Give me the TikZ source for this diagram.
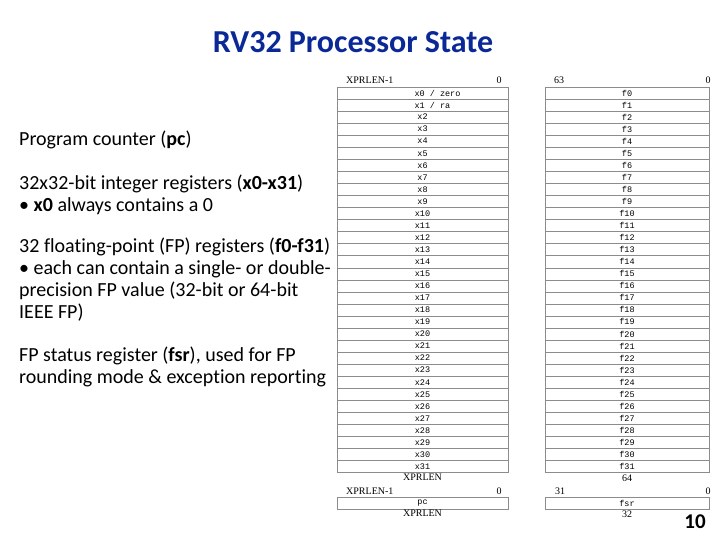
\documentclass[tikz,border=0pt]{standalone}
\usepackage{fontspec}
\usetikzlibrary{positioning}
\setmainfont{Carlito}[Ligatures=NoCommon]
\newfontfamily\regfont{Liberation Mono}
\newfontfamily\hdrfont{Liberation Serif}
\definecolor{titleblue}{RGB}{10,40,150}
\definecolor{rulegray}{RGB}{140,140,140}

\tikzset{
  reg/.style={draw=rulegray,minimum height=12.05pt,inner sep=0pt,
    font=\regfont\fontsize{8.5}{9}\selectfont},
  xreg/.style={reg,minimum width=171pt},
  freg/.style={reg,minimum width=164pt},
  hdr/.style={inner sep=0pt,font=\hdrfont\fontsize{10}{11}\selectfont},
  txt/.style={anchor=west,inner sep=0pt,font=\fontsize{20}{22}\selectfont}
}

\begin{document}
\begin{tikzpicture}[x=1pt,y=-1pt]
  \useasboundingbox (0,0) rectangle (720,540);

  \node[font=\bfseries\fontsize{32}{36}\selectfont,text=titleblue] (title) at (353,42) {RV32 Processor State};

  % left column text
  \node[txt] (pcline) at (19,140) {Program counter (\textbf{pc})};
  \node[txt] (xline) at (19,184) {32x32-bit integer registers (\textbf{x0-x31})};
  \node[txt] (xnote) at (19,206) {• \textbf{x0} always contains a 0};
  \node[txt] (fline) at (19,247) {32 floating-point (FP) registers (\textbf{f0-f31})};
  \node[txt] (fnotea) at (19,269) {• each can contain a single- or double-};
  \node[txt] (fnoteb) at (19,291) {precision FP value (32-bit or 64-bit};
  \node[txt] (fnotec) at (19,313) {IEEE FP)};
  \node[txt] (fsrline) at (19,356) {FP status register (\textbf{fsr}), used for FP};
  \node[txt] (fsrnote) at (19,378) {rounding mode \& exception reporting};

  % register files
  \node[hdr,anchor=west] (xhi) at (346,80) {XPRLEN-1};
  \node[hdr] (xlo) at (499,80) {0};
  \node[hdr] (fhi) at (559,80) {63};
  \node[hdr] (flo) at (708,80) {0};

  \node[xreg] (x0) at (422.5,93) {\makebox[160pt][l]{\hspace{72pt}x0 / zero}};
  \node[xreg] (x1) at (422.5,{93+12.05}) {\makebox[160pt][l]{\hspace{72pt}x1 / ra}};
  \foreach \i in {2,...,31}
    \node[xreg] (x\i) at (422.5,{93+12.05*\i}) {x\i};
  \foreach \i in {0,...,31}
    \node[freg] (f\i) at (627,{93+12.05*\i}) {f\i};

  \node[hdr,below=1pt of x31] (xw) {XPRLEN};
  \node[hdr,below=1.5pt of f31] (fw) {64};

  % pc and fsr
  \node[hdr,anchor=west] (pchi) at (346,491) {XPRLEN-1};
  \node[hdr] (pclo) at (499,491) {0};
  \node[hdr] (fsrhi) at (560,491) {31};
  \node[hdr] (fsrlo) at (708,491) {0};
  \node[xreg] (pc) at (422.5,503) {pc};
  \node[freg] (fsr) at (627,503) {fsr};
  \node[hdr,below=1pt of pc] (pcw) {XPRLEN};
  \node[hdr,below=1.5pt of fsr] (fsrw) {32};

  \node[font=\bfseries\fontsize{21}{24}\selectfont] (page) at (695,522) {10};
\end{tikzpicture}
\end{document}
